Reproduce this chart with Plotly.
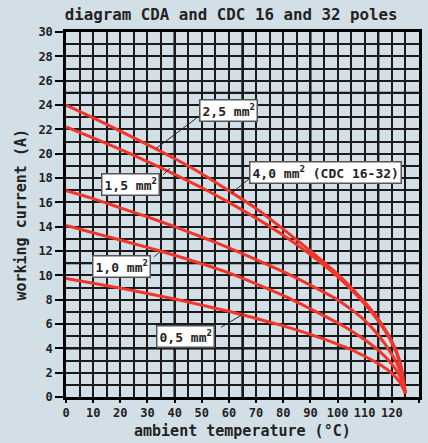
import plotly.graph_objects as go

# ambient temperature (°C) sample points
temperature = [0, 10, 20, 30, 40, 50, 60, 70, 80, 90, 100, 105, 110, 115, 120, 123, 125]

# working current (A)
current_25 = [24.0, 22.95, 21.85, 20.75, 19.6, 18.35, 16.95, 15.5, 13.8, 12.0, 10.1, 9.0, 7.8, 6.4, 4.6, 2.9, 0.3]
current_40 = [22.2, 21.3, 20.35, 19.35, 18.3, 17.2, 16.0, 14.7, 13.3, 11.7, 9.9, 8.85, 7.65, 6.25, 4.45, 2.8, 0.3]
current_15 = [16.95, 16.3, 15.55, 14.8, 14.0, 13.15, 12.25, 11.3, 10.3, 9.2, 8.0, 7.2, 6.3, 5.1, 3.5, 2.2, 0.3]
current_10 = [14.1, 13.5, 12.9, 12.3, 11.65, 10.95, 10.2, 9.3, 8.35, 7.25, 6.1, 5.45, 4.7, 3.85, 2.7, 1.7, 0.3]
current_05 = [9.75, 9.35, 8.95, 8.5, 8.05, 7.55, 7.05, 6.45, 5.85, 5.15, 4.35, 3.9, 3.35, 2.75, 1.95, 1.2, 0.3]

series_names = ["2,5 mm²", "4,0 mm² (CDC 16-32)", "1,5 mm²", "1,0 mm²", "0,5 mm²"]
series_values = [current_25, current_40, current_15, current_10, current_05]

x_ticks = list(range(0, 131, 10))
y_ticks = list(range(0, 31, 2))

BG = "#d3dfe6"
RED = "#f2352a"
FONT = "DejaVu Sans Mono"
GRID = "#1a1a1a"

fig = go.Figure()
for name, vals in zip(series_names, series_values):
    fig.add_trace(go.Scatter(x=temperature, y=vals, mode="lines", name=name,
                             line=dict(color=RED, width=3, shape="spline", smoothing=0.6),
                             showlegend=False))

# heavier grid lines
for xv in [40, 65, 90, 115]:
    fig.add_shape(type="line", x0=xv, x1=xv, y0=0, y1=30, xref="x", yref="y",
                  line=dict(color="#000", width=2.2), layer="below")
for yv in [4, 11, 18, 25]:
    fig.add_shape(type="line", x0=0, x1=130, y0=yv, y1=yv, xref="x", yref="y",
                  line=dict(color="#000", width=2.2), layer="below")

# label boxes: (text, x, y) and leader lines
labels = [
    ("2,5 mm<sup>2</sup>", 59.7, 23.58, (48.1, 22.93), (33.4, 20.46)),
    ("1,5 mm<sup>2</sup>", 23.9, 17.46, (35.8, 18.27), (38.3, 18.82)),
    ("4,0 mm<sup>2</sup> (CDC 16-32)", 95.6, 18.49, (67.8, 18.0), (61.0, 16.76)),
    ("1,0 mm<sup>2</sup>", 20.4, 10.74, (32.5, 11.53), (34.6, 11.94)),
    ("0,5 mm<sup>2</sup>", 44.0, 5.01, (57.1, 5.73), (65.3, 6.82)),
]
for text, lx, ly, p0, p1 in labels:
    fig.add_shape(type="line", x0=p0[0], y0=p0[1], x1=p1[0], y1=p1[1], xref="x", yref="y",
                  line=dict(color="#222", width=1))
    fig.add_annotation(x=lx, y=ly, xref="x", yref="y", text=text, showarrow=False,
                       font=dict(family=FONT, size=13, color="#222", weight="bold"),
                       bgcolor="white", bordercolor="#555", borderwidth=1.5, borderpad=2)

# axis titles
fig.add_annotation(x=0.5, y=-0.092, xref="paper", yref="paper", showarrow=False,
                   text="ambient temperature (°C)", yanchor="middle",
                   font=dict(family=FONT, size=15, color="#222", weight="bold"))
fig.add_annotation(x=-0.13, y=0.5, xref="paper", yref="paper", showarrow=False,
                   text="working current (A)", textangle=-90, xanchor="center",
                   font=dict(family=FONT, size=15, color="#222", weight="bold"))

axis_common = dict(showline=True, linecolor="#000", linewidth=2.5, mirror=True,
                   ticks="outside", tickcolor="#000", tickwidth=2,
                   showgrid=True, gridcolor=GRID, gridwidth=1.5, zeroline=False,
                   automargin=False,
                   tickfont=dict(family=FONT, size=12, color="#222", weight="bold"))

fig.update_layout(
    width=428, height=443,
    margin=dict(l=66, r=9, t=32, b=46, autoexpand=False),
    paper_bgcolor=BG, plot_bgcolor=BG,
    title=dict(text="diagram CDA and CDC 16 and 32 poles", x=0.54, xanchor="center",
               xref="container", y=0.968, yanchor="middle", yref="container",
               font=dict(family=FONT, size=15.8, color="#222", weight="bold")),
    xaxis=dict(range=[0, 130], tickvals=x_ticks, ticktext=[str(v) for v in x_ticks],
               ticklen=3,
               minor=dict(dtick=5, tick0=0, showgrid=True, gridcolor=GRID, gridwidth=1.5),
               **axis_common),
    yaxis=dict(range=[0, 30], tickvals=y_ticks, ticktext=[str(v) for v in y_ticks],
               ticklen=8,
               minor=dict(dtick=1, tick0=0, showgrid=True, gridcolor=GRID, gridwidth=1.5),
               **axis_common),
)

fig.write_html("out.html", config={"displayModeBar": False},
               post_script="document.body.style.margin='0px';document.body.style.overflow='hidden';")
